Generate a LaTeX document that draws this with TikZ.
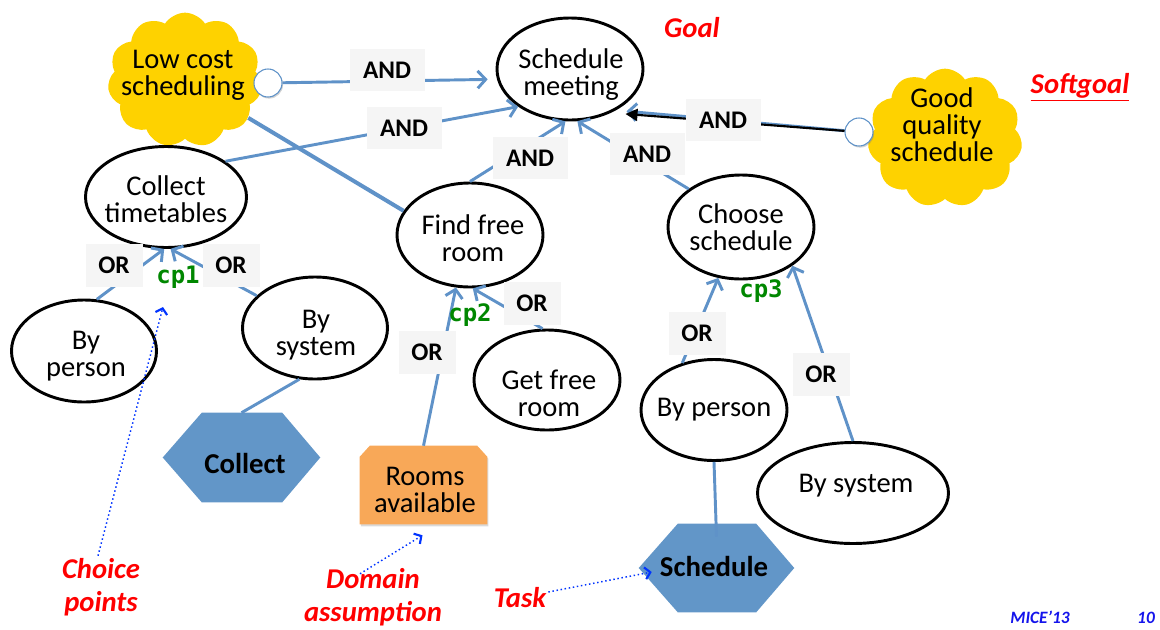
\documentclass[tikz,border=0pt]{standalone}
\usepackage{fontspec}
\setmainfont{Carlito}
\newfontfamily\cpfont{DejaVu Sans Mono}
\usetikzlibrary{shapes.geometric,shapes.symbols,arrows.meta,calc,shadows}

\definecolor{linkblue}{RGB}{95,146,200}
\definecolor{taskblue}{RGB}{98,150,200}
\definecolor{softyellow}{RGB}{254,210,0}
\definecolor{assumorange}{RGB}{248,168,88}
\definecolor{tagfill}{RGB}{245,245,245}
\definecolor{cpgreen}{RGB}{0,135,0}
\definecolor{notered}{RGB}{255,0,0}
\definecolor{pointerblue}{RGB}{0,51,255}
\definecolor{footblue}{RGB}{20,20,235}

\newcommand\nodefont{\fontsize{21.4pt}{20.3pt}\selectfont}
\newcommand\tagfont{\fontsize{19pt}{20pt}\selectfont\bfseries}
\newcommand\taskfont{\fontsize{21.6pt}{22pt}\selectfont\bfseries}
\newcommand\notefont{\fontsize{21.5pt}{25pt}\selectfont\bfseries\itshape}
\newcommand\cplabelfont{\fontsize{18pt}{18pt}\selectfont\cpfont\bfseries}

\pgfdeclarelayer{background}
\pgfsetlayers{background,main}

\begin{document}
\begin{tikzpicture}[x=0.75pt,y=-0.75pt,
  goal/.style={ellipse, draw=black, line width=2.2pt, fill=white, inner sep=0pt},
  nodetext/.style={align=center, font=\nodefont, inner sep=0pt},
  soft/.style={cloud, cloud puffs=11, cloud puff arc=115, cloud ignores aspect,
    fill=softyellow, inner sep=0pt},
  knob/.style={circle, minimum size=21pt, inner sep=0pt, fill=white,
    draw=linkblue, line width=0.8pt,
    drop shadow={shadow xshift=0.8pt, shadow yshift=-1.2pt, opacity=0.35}},
  taskbox/.style={rectangle, inner sep=0pt, minimum width=117.75pt,
    minimum height=66.75pt},
  tasktext/.style={font=\taskfont, inner sep=0pt},
  assumbox/.style={rectangle, inner sep=0pt, minimum width=95.25pt, minimum height=58.5pt},
  andtag/.style={fill=tagfill, inner sep=0pt, minimum width=56.25pt,
    minimum height=31.5pt, font=\tagfont},
  ortag/.style={fill=tagfill, inner sep=0pt, minimum width=42.75pt,
    minimum height=32.25pt, font=\tagfont},
  cplabel/.style={text=cpgreen, font=\cplabelfont, inner sep=0pt},
  note/.style={text=notered, font=\notefont, align=center, inner sep=0pt},
  conn/.style={draw=linkblue, line width=2.2pt},
  arr/.style={conn, -{Straight Barb[length=6pt,width=13pt]}},
  pointer/.style={draw=pointerblue, line width=1.1pt, dotted,
    -{Straight Barb[length=4pt,width=9pt,line width=1.6pt]}},
  foot/.style={text=footblue, font=\fontsize{13pt}{13pt}\selectfont\bfseries\itshape,
    anchor=base, inner sep=0pt}
]
\useasboundingbox (0,0) rectangle (1160,629);

% softgoals
\node[soft, minimum width=116pt, minimum height=101pt] (lcs) at (185,80) {};
\node[nodetext] (lcstext) at (183,75) {Low cost\\scheduling};
\node[soft, minimum width=116pt, minimum height=104pt] (gqs) at (945,138) {};
\node[nodetext] (gqstext) at (942,125) {Good\\quality\\schedule};
\node[knob] (lcc) at (268,83) {};
\node[knob] (gqc) at (859,132) {};

% goals: outlines, then their labels
\node[goal, minimum width=109.5pt, minimum height=76.5pt] (sm) at (570,69) {};
\node[goal, minimum width=120.75pt, minimum height=75.75pt] (ct) at (166,197) {};
\node[goal, minimum width=109.5pt, minimum height=78pt] (ffr) at (470,235) {};
\node[goal, minimum width=109.5pt, minimum height=78pt] (cs) at (741,227) {};
\node[goal, minimum width=108.75pt, minimum height=76.5pt] (bpl) at (84,351) {};
\node[goal, minimum width=108.75pt, minimum height=76.5pt] (bsl) at (315,328) {};
\node[goal, minimum width=109.5pt, minimum height=75pt] (gfr) at (547,380) {};
\node[goal, minimum width=109.5pt, minimum height=75.75pt] (bpr) at (714,410) {};
\node[goal, minimum width=143.25pt, minimum height=75.75pt] (bsr) at (853,493) {};

\node[nodetext] (smtext) at (571,75) {Schedule\\meeting};
\node[nodetext] (cttext) at (166,199) {Collect\\timetables};
\node[nodetext] (ffrtext) at (473,238) {Find free\\room};
\node[nodetext] (cstext) at (741,227) {Choose\\schedule};
\node[nodetext] (bpltext) at (86,356) {By\\person};
\node[nodetext] (bsltext) at (316,335) {By\\system};
\node[nodetext] (gfrtext) at (549,393) {Get free\\room};
\node[nodetext] (bprtext) at (714,410) {By person};
\node[nodetext] (bsrtext) at (856,486) {By system};

% tasks (hexagons) and domain assumption (box with clipped top corners)
\node[taskbox] (collect) at (241.5,457.5) {};
\node[taskbox, minimum width=116.25pt, minimum height=66pt] (sched) at (716.5,568) {};
\node[assumbox] (rooms) at (423.5,485) {};
\begin{pgfonlayer}{background}
  \foreach \t in {collect,sched}{
    \fill[taskblue] (\t.west) -- ($(\t.north west)+(39,0)$) -- ($(\t.north east)+(-38,0)$)
      -- (\t.east) -- ($(\t.south east)+(-38,0)$) -- ($(\t.south west)+(39,0)$) -- cycle;
  }
  \fill[assumorange, drop shadow={shadow xshift=0.8pt, shadow yshift=-1.5pt, opacity=0.3}]
    (rooms.south west) -- ($(rooms.north west)+(0,11)$) -- ($(rooms.north west)+(10,0)$)
    -- ($(rooms.north east)+(-10,0)$) -- ($(rooms.north east)+(0,11)$)
    -- (rooms.south east) -- cycle;
\end{pgfonlayer}
\node[tasktext] (collecttext) at (245,463) {Collect};
\node[tasktext] (schedtext) at (714,566) {Schedule};
\node[nodetext] (roomstext) at (425,490) {Rooms\\available};

% refinement links
\draw[arr, shorten >=7pt] (lcc) -- (sm.188);
\draw[arr] (ct.31) -- (sm.216);
\draw[arr] (ffr.north) -- (sm.265);
\draw[arr] (cs.144) -- (sm.278);
\draw[arr, shorten >=8pt] (gqc) -- (sm.318);
\draw[draw=black, line width=1.6pt, -{Triangle[length=9pt,width=9pt]}, shorten >=11pt] (gqc) -- (sm.313);
\draw[conn, line width=3pt] (lcs) -- (ffr.160);
\draw[arr] (bpl.76) -- (ct.268);
\draw[arr] (bsl.151) -- (ct.275);
\draw[conn] (bsl.253) -- (collect.north);
\draw[arr] (rooms.north) -- (ffr.255);
\draw[arr] (gfr.95) -- (ffr.273);
\draw[arr] (bpr.124) -- (cs.246);
\draw[arr] (bsr.north) -- (cs.323);
\draw[conn] (bpr.south) -- ($(sched.north)+(0,13)$);

% decomposition tags
\node[andtag] (and1) at (387,70) {AND};
\node[andtag] (and2) at (404,128) {AND};
\node[andtag] (and3) at (530,158) {AND};
\node[andtag] (and4) at (647,154) {AND};
\node[andtag] (and5) at (723,120) {AND};
\node[ortag] (or1) at (114,265) {OR};
\node[ortag] (or2) at (231,265) {OR};
\node[ortag] (or3) at (532,303) {OR};
\node[ortag] (or4) at (427,352) {OR};
\node[ortag] (or5) at (697,333) {OR};
\node[ortag] (or6) at (821,374) {OR};

% choice points
\node[cplabel] (cp1) at (178,277) {cp1};
\node[cplabel] (cp2) at (470,315) {cp2};
\node[cplabel] (cp3) at (761,291) {cp3};

% legend notes
\node[note] (goalnote) at (692,28) {Goal};
\node[note] (softnote) at (1080,87) {\underline{Softgoal}};
\node[note] (choicenote) at (101,587) {Choice\\points};
\node[note] (domainnote) at (373,597) {Domain\\assumption};
\node[note] (tasknote) at (520,598) {Task};
\draw[pointer] ($(choicenote.north)+(-3,-2)$) -- ($(cp1)+(-15,30)$);
\draw[pointer] ($(domainnote.north)+(-13,6)$) -- ($(rooms.south)+(-1,11)$);
\draw[pointer] ($(tasknote.east)+(2,-6)$) -- ($(sched.west)+(13,4)$);

% footer
\node[foot] (footconf) at (1040,623) {MICE'13};
\node[foot] (footpage) at (1146,623) {10};
\end{tikzpicture}
\end{document}
